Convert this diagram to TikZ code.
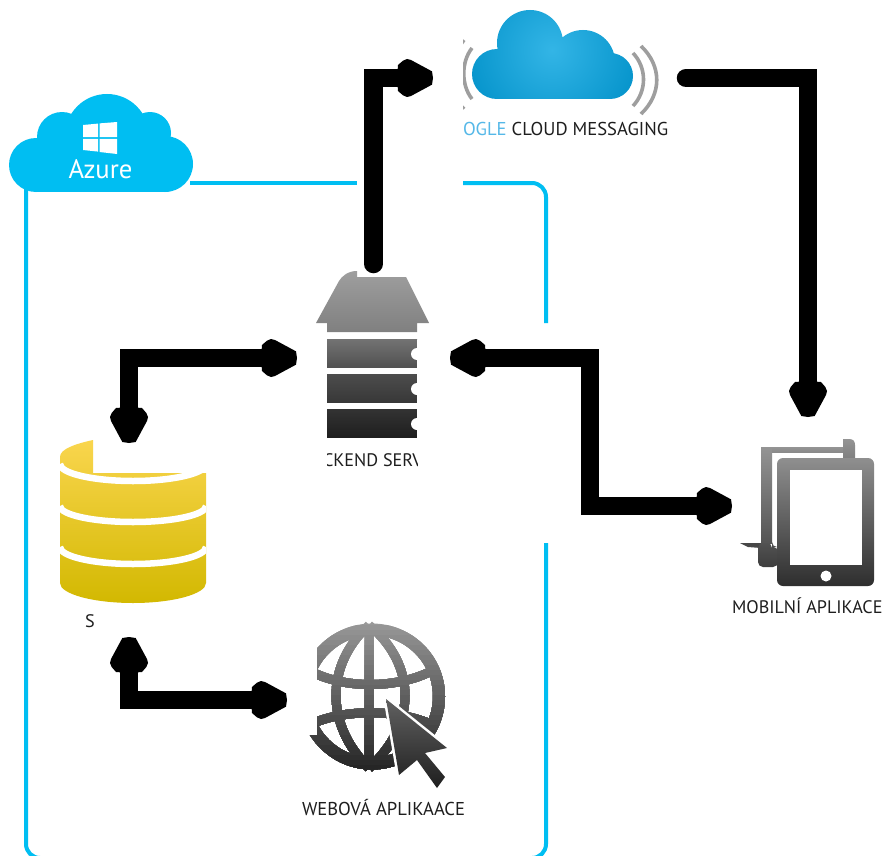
\documentclass[tikz,border=0pt]{standalone}
\usepackage{fontspec}
\setmainfont{PT Sans}
\usetikzlibrary{arrows.meta}
\def\px{0.75pt}
\definecolor{azureblue}{HTML}{00BEF2}
\definecolor{gcmblue}{HTML}{33B5E6}
\definecolor{gcmdeep}{HTML}{0090C8}
\definecolor{labelblue}{HTML}{55B8E8}
\definecolor{labeldark}{HTML}{1E1E1E}
\definecolor{wavegray}{HTML}{9E9E9E}
\pgfdeclarearrow{
  name=Blob,
  setup code={%
    \pgfarrowssettipend{0pt}%
    \pgfarrowssetlineend{-20pt}%
    \pgfarrowssetvisualbackend{-27pt}%
    \pgfarrowssetbackend{-27pt}%
  },
  drawing code={%
    \pgfpathqmoveto{0pt}{0pt}%
    \pgfpathqlineto{-0.75pt}{-5pt}%
    \pgfpathqlineto{-16.5pt}{-13.5pt}%
    \pgfpathqlineto{-19.5pt}{-14.25pt}%
    \pgfpathqlineto{-22.5pt}{-13pt}%
    \pgfpathqlineto{-26.25pt}{-9.75pt}%
    \pgfpathqlineto{-27pt}{0pt}%
    \pgfpathqlineto{-26.25pt}{9.75pt}%
    \pgfpathqlineto{-22.5pt}{13pt}%
    \pgfpathqlineto{-19.5pt}{14.25pt}%
    \pgfpathqlineto{-16.5pt}{13.5pt}%
    \pgfpathqlineto{-0.75pt}{5pt}%
    \pgfpathclose
    \pgfusepathqfill
  },
}
\tikzset{
  x=0.75pt,y=-0.75pt,
  caption/.style={anchor=base west,inner sep=0pt,outer sep=0pt,text=labeldark,font=\fontsize{13.6pt}{15pt}\selectfont},
  widecaption/.style={caption,font=\fontsize{13.95pt}{15pt}\selectfont},
  conn/.style={line width=18.5*\px,draw=black,line join=miter},
  framepart/.style={draw=azureblue,line width=4*\px,rounded corners=14*\px},
  wave/.style={draw=wavegray,line width=3.6*\px},
  rungap/.style={draw=white,line width=6.5*\px},
  anchorbox/.style={inner sep=0pt,outer sep=0pt},
}
\newcommand{\dbgap}[2]{(60,#1) .. controls (60,#1+0.55*#2) and (93,#1+#2) .. (133,#1+#2) .. controls (173,#1+#2) and (206,#1+0.55*#2) .. (206,#1)}
\begin{document}
\begin{tikzpicture}
\clip (0,0) rectangle (885,856);
\fill[white] (0,0) rectangle (885,856);

% Azure frame
\draw[framepart] (26,180) -- (26,858) -- (546,858) -- (546,543);
\draw[framepart] (190,183) -- (357,183);
\draw[framepart] (463,183) -- (546,183) -- (546,323);

% Azure cloud
\fill[azureblue] (36,165) circle[radius=27] (165,164) circle[radius=28]
  (62,137) circle[radius=25] (150,133) circle[radius=21] (107,136) circle[radius=42];
\fill[azureblue] (36,150) -- (165,150) -- (165,192) -- (36,192) -- cycle;
\fill[white] (83,125) -- (98,123.6) -- (98,137.2) -- (83,137.2) -- cycle
  (99.5,123.4) -- (117,122) -- (117,137.2) -- (99.5,137.2) -- cycle
  (83,138.8) -- (98,138.8) -- (98,151.6) -- (83,150) -- cycle
  (99.5,138.8) -- (117,138.8) -- (117,154) -- (99.5,152) -- cycle;
\node[anchor=base,inner sep=0pt,text=white,font=\fontsize{20pt}{22pt}\selectfont] (azurelabel) at (100.5,178) {Azure};

% GCM cloud
\begin{scope}
\clip (497,74) circle[radius=25] (530,43) circle[radius=33] (583,62) circle[radius=32] (610,76) circle[radius=23]
  (497,60) -- (610,60) -- (610,99) -- (497,99) -- cycle;
\shade[inner color=gcmblue,outer color=gcmdeep] (552,50) circle[radius=100];
\end{scope}
\draw[wave] (633,53) .. controls (647,68) and (647,91) .. (633,106);
\draw[wave] (641,46) .. controls (662,66) and (662,94) .. (641,114);
\begin{scope}
\clip (463,0) rectangle (500,130);
\draw[wave] (472,48) .. controls (461,62) and (461,85) .. (472,99);
\draw[wave] (464,40) .. controls (444,66) and (444,90) .. (464,109);
\end{scope}
\node[widecaption] (gcmlabel) at (463,135) {\textcolor{labelblue}{OGLE} CLOUD MESSAGING};

% Server
\shade[top color=black!38,bottom color=black!50]
  (357,271) .. controls (348,271) and (342,276) .. (339,281) -- (316,323) -- (327,323) -- (327,332)
  -- (417,332) -- (417,323) -- (429,323) -- (406,277) -- (357,277) -- cycle;
\shade[top color=black!55,bottom color=black!68] (327,339) rectangle (417,367);
\shade[top color=black!70,bottom color=black!78] (327,374) rectangle (417,402);
\shade[top color=black!80,bottom color=black!88] (327,409) rectangle (417,437);
\fill[white] (417,354) circle[radius=6] (417,389) circle[radius=6] (417,424) circle[radius=6];
\fill[white] (417,340) rectangle (430,440);
\begin{scope}
\clip (327,445) rectangle (417,475);
\node[caption] (serverlabel) at (323,466) {CKEND SERV};
\end{scope}

% Database
\begin{scope}
\clip (60,457) .. controls (60,449) and (75,444) .. (93,440) -- (93,473) -- (206,473) -- (206,583)
  .. controls (206,594) and (173,603) .. (133,603) .. controls (93,603) and (60,594) .. (60,583) -- cycle;
\shade[top color={rgb,255:red,250;green,214;blue,79},bottom color={rgb,255:red,210;green,184;blue,0}] (40,437) rectangle (220,605);
\draw[rungap] \dbgap{464}{17};
\draw[rungap] \dbgap{506}{16};
\draw[rungap] \dbgap{547}{17};
\end{scope}
\node[caption] (dblabel) at (85,627) {S};

% Web icon
\begin{scope}
\clip (317,610) -- (460,610) -- (460,800) -- (303,800) -- (303,735) -- (317,735) -- cycle;
\foreach \i in {0,...,30}{
  \pgfmathsetmacro{\ytop}{620+\i*5}
  \pgfmathsetmacro{\shadeval}{40+\i*1.55}
  \begin{scope}
    \clip (290,\ytop) rectangle (460,800);
    \draw[draw=black!\shadeval,line width=12*\px] (372,696.5) circle[radius=67];
    \draw[draw=black!\shadeval,line width=9*\px]
      (369,625) -- (369,768)
      (369,625) .. controls (325,665) and (325,725) .. (369,768)
      (369,625) .. controls (417,665) and (417,725) .. (369,768)
      (305,668) .. controls (340,690) and (400,690) .. (437,668)
      (305,727) .. controls (340,708) and (400,708) .. (437,727);
  \end{scope}
}
\end{scope}
\draw[draw=white,line width=5*\px,fill=white] (386,699) -- (447,748) -- (425,753) -- (445,777) -- (437,788) -- (417,760) -- (399,775) -- cycle;
\shade[top color=black!62,bottom color=black!88] (386,699) -- (447,748) -- (425,753) -- (445,777) -- (437,788) -- (417,760) -- (399,775) -- cycle;
\node[widecaption] (weblabel) at (302,815) {WEBOVÁ APLIKAACE};

% Tablets
\shade[top color=black!42,bottom color=black!50] (843,458) -- (843,439) -- (849,439) .. controls (853,439) and (855,441) .. (855,445) -- (855,458) -- cycle;
\shade[top color=black!42,bottom color=black!46] (761,447) rectangle (843,452);
\shade[top color=black!42,bottom color=black!67] (761,447) rectangle (772,543);
\fill[black!72] (740,543) -- (761,543) -- (761,548) -- (748,547) -- cycle;
\shade[top color=black!68,bottom color=black!76,rounded corners=5*\px] (758,543) -- (758,567) -- (778,567) -- (778,547) -- (772,547) -- (772,543) -- cycle;
\shade[top color=black!44,bottom color=black!82,rounded corners=6*\px] (777,458) rectangle (874,586);
\fill[white] (790,470) rectangle (862,565);
\fill[white] (826,576) circle[radius=5.5];
\node[caption] (mobilelabel) at (732,613) {MOBILNÍ APLIKACE};

% Anchor boxes for the connectors
\node[anchorbox,minimum width=153*\px,minimum height=170*\px] (server) at (373.5,358) {};
\node[anchorbox,minimum width=244*\px,minimum height=100*\px] (gcm) at (555,78) {};
\node[anchorbox,minimum width=152*\px,minimum height=178*\px] (mobile) at (808,506) {};
\node[anchorbox,minimum width=146*\px,minimum height=194*\px] (db) at (129,540) {};
\node[anchorbox,minimum width=160*\px,minimum height=160*\px] (web) at (367,700) {};
\coordinate (junction) at (590,430);

% Connectors
\draw[conn,line cap=round,-{Blob}] ([yshift=9*\px]server.north) |- (gcm.west);
\draw[conn,line cap=round,-{Blob}] ([xshift=9*\px]gcm.east) -| (mobile.north);
\draw[conn,{Blob}-{Blob}] (server.west) -| (db.north);
\draw[conn,{Blob}-{Blob}] (server.east) -| (junction) |- (mobile.west);
\draw[conn,{Blob}-{Blob}] (db.south) |- (web.west);
\end{tikzpicture}
\end{document}
